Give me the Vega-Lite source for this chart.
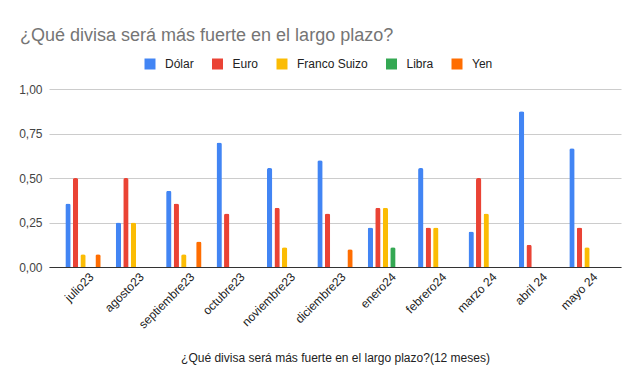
{
  "$schema": "https://vega.github.io/schema/vega-lite/v6.json",
  "autosize": {"type": "none"},
  "padding": {"left": 49, "top": 89, "right": 19, "bottom": 117},
  "width": 572,
  "height": 178,
  "background": "white",
  "title": {
    "text": "¿Qué divisa será más fuerte en el largo plazo?",
    "anchor": "start",
    "frame": "group",
    "orient": "top",
    "offset": 0,
    "dx": -29,
    "dy": -13,
    "font": "Liberation Sans",
    "fontSize": 18,
    "fontWeight": "normal",
    "color": "#757575"
  },
  "data": {
    "values": [
      {"mes": "julio23", "divisa": "Dólar", "valor": 0.357},
      {"mes": "julio23", "divisa": "Euro", "valor": 0.5},
      {"mes": "julio23", "divisa": "Franco Suizo", "valor": 0.071},
      {"mes": "julio23", "divisa": "Yen", "valor": 0.071},
      {"mes": "agosto23", "divisa": "Dólar", "valor": 0.25},
      {"mes": "agosto23", "divisa": "Euro", "valor": 0.5},
      {"mes": "agosto23", "divisa": "Franco Suizo", "valor": 0.25},
      {"mes": "septiembre23", "divisa": "Dólar", "valor": 0.429},
      {"mes": "septiembre23", "divisa": "Euro", "valor": 0.357},
      {"mes": "septiembre23", "divisa": "Franco Suizo", "valor": 0.071},
      {"mes": "septiembre23", "divisa": "Yen", "valor": 0.143},
      {"mes": "octubre23", "divisa": "Dólar", "valor": 0.7},
      {"mes": "octubre23", "divisa": "Euro", "valor": 0.3},
      {"mes": "noviembre23", "divisa": "Dólar", "valor": 0.556},
      {"mes": "noviembre23", "divisa": "Euro", "valor": 0.333},
      {"mes": "noviembre23", "divisa": "Franco Suizo", "valor": 0.111},
      {"mes": "diciembre23", "divisa": "Dólar", "valor": 0.6},
      {"mes": "diciembre23", "divisa": "Euro", "valor": 0.3},
      {"mes": "diciembre23", "divisa": "Yen", "valor": 0.1},
      {"mes": "enero24", "divisa": "Dólar", "valor": 0.222},
      {"mes": "enero24", "divisa": "Euro", "valor": 0.333},
      {"mes": "enero24", "divisa": "Franco Suizo", "valor": 0.333},
      {"mes": "enero24", "divisa": "Libra", "valor": 0.111},
      {"mes": "febrero24", "divisa": "Dólar", "valor": 0.556},
      {"mes": "febrero24", "divisa": "Euro", "valor": 0.222},
      {"mes": "febrero24", "divisa": "Franco Suizo", "valor": 0.222},
      {"mes": "marzo 24", "divisa": "Dólar", "valor": 0.2},
      {"mes": "marzo 24", "divisa": "Euro", "valor": 0.5},
      {"mes": "marzo 24", "divisa": "Franco Suizo", "valor": 0.3},
      {"mes": "abril 24", "divisa": "Dólar", "valor": 0.875},
      {"mes": "abril 24", "divisa": "Euro", "valor": 0.125},
      {"mes": "mayo 24", "divisa": "Dólar", "valor": 0.667},
      {"mes": "mayo 24", "divisa": "Euro", "valor": 0.222},
      {"mes": "mayo 24", "divisa": "Franco Suizo", "valor": 0.111}
    ]
  },
  "mark": {"type": "bar", "cornerRadiusTopLeft": 2, "cornerRadiusTopRight": 2},
  "encoding": {
    "x": {
      "field": "mes",
      "type": "nominal",
      "sort": null,
      "scale": {"paddingInner": 0, "paddingOuter": 0.175},
      "axis": {
        "title": "¿Qué divisa será más fuerte en el largo plazo?(12 meses)",
        "titleFont": "Liberation Sans",
        "titleFontSize": 12,
        "titleFontWeight": "normal",
        "titleColor": "#222222",
        "titlePadding": 22,
        "labelAngle": -45,
        "labelFont": "Liberation Sans",
        "labelFontSize": 12,
        "labelColor": "#222222",
        "labelPadding": 4,
        "labelOffset": 5,
        "ticks": false,
        "domainColor": "#333333",
        "domainWidth": 1
      }
    },
    "xOffset": {
      "field": "divisa",
      "type": "nominal",
      "scale": {"domain": ["Dólar", "Euro", "Franco Suizo", "Libra", "Yen"], "paddingInner": 0.29, "paddingOuter": 1.245}
    },
    "y": {
      "field": "valor",
      "type": "quantitative",
      "scale": {"domain": [0, 1], "nice": false},
      "axis": {
        "title": null,
        "values": [0, 0.25, 0.5, 0.75, 1],
        "labelExpr": "replace(format(datum.value, '.2f'), '.', ',')",
        "labelFont": "Liberation Sans",
        "labelFontSize": 12,
        "labelColor": "#444444",
        "labelPadding": 7,
        "ticks": false,
        "domain": false,
        "gridColor": "#cccccc",
        "gridWidth": 1
      }
    },
    "color": {
      "field": "divisa",
      "type": "nominal",
      "scale": {
        "domain": ["Dólar", "Euro", "Franco Suizo", "Libra", "Yen"],
        "range": ["#4285F4", "#EA4335", "#FBBC04", "#34A853", "#FF6D01"]
      },
      "legend": {
        "title": null,
        "orient": "none",
        "direction": "horizontal",
        "legendX": 95,
        "legendY": -31,
        "symbolType": "square",
        "symbolSize": 121,
        "symbolStrokeWidth": 0,
        "symbolOpacity": 1,
        "labelFont": "Liberation Sans",
        "labelFontSize": 12,
        "labelColor": "#222222",
        "labelOffset": 9,
        "columnPadding": 17.5
      }
    }
  },
  "config": {
    "view": {"stroke": null},
    "axis": {"gridColor": "#cccccc"}
  }
}
